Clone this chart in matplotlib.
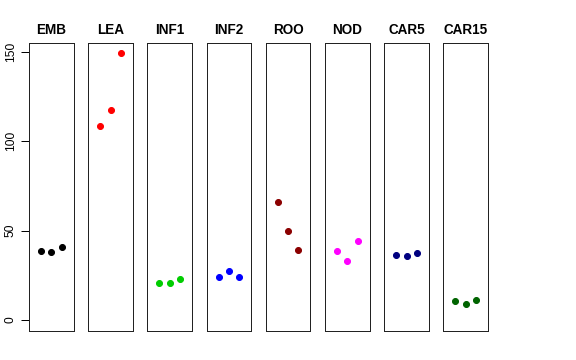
import matplotlib
matplotlib.use("Agg")
import matplotlib.pyplot as plt

# Data
groups = ["EMB", "LEA", "INF1", "INF2", "ROO", "NOD", "CAR5", "CAR15"]
colors = ["black", "red", "#00CD00", "blue", "#8B0000", "magenta", "#000080", "#006400"]
positions = [1, 2, 3]
emb = [38.8, 38.2, 40.6]
lea = [108.6, 117.4, 149.1]
inf1 = [20.9, 20.7, 23.1]
inf2 = [23.8, 27.4, 24.2]
roo = [65.8, 49.8, 39.1]
nod = [38.4, 33.3, 44.2]
car5 = [36.5, 35.6, 37.6]
car15 = [10.8, 8.9, 11.2]
values = [emb, lea, inf1, inf2, roo, nod, car5, car15]
yticks = [0, 50, 100, 150]

plt.rcParams["font.family"] = ["Liberation Sans", "DejaVu Sans"]

W, H = 576, 360
fig, axes = plt.subplots(
    1, 8, figsize=(W / 72, H / 72), dpi=72,
    gridspec_kw=dict(left=29 / W, right=488 / W, bottom=1 - 330.7 / H,
                     top=1 - 43 / H, wspace=14.6 / 44.6),
)

for i, ax in enumerate(axes):
    ax.plot(positions, values[i], "o", color=colors[i], markersize=6, linestyle="none")
    ax.set_xlim(-0.16, 4.16)
    ax.set_ylim(-5.96, 154.96)
    ax.set_xticks([])
    ax.set_title(groups[i], fontsize=13.5, fontweight="bold", pad=8.5)
    for s in ax.spines.values():
        s.set_linewidth(1.0)
        s.set_color("#222222")
    if i == 0:
        ax.set_yticks(yticks)
        ax.set_yticklabels([str(t) for t in yticks], rotation=90, va="center", fontsize=12)
        ax.tick_params(axis="y", length=8, width=1, pad=4)
    else:
        ax.set_yticks([])

fig.savefig("out.png", dpi=72)
